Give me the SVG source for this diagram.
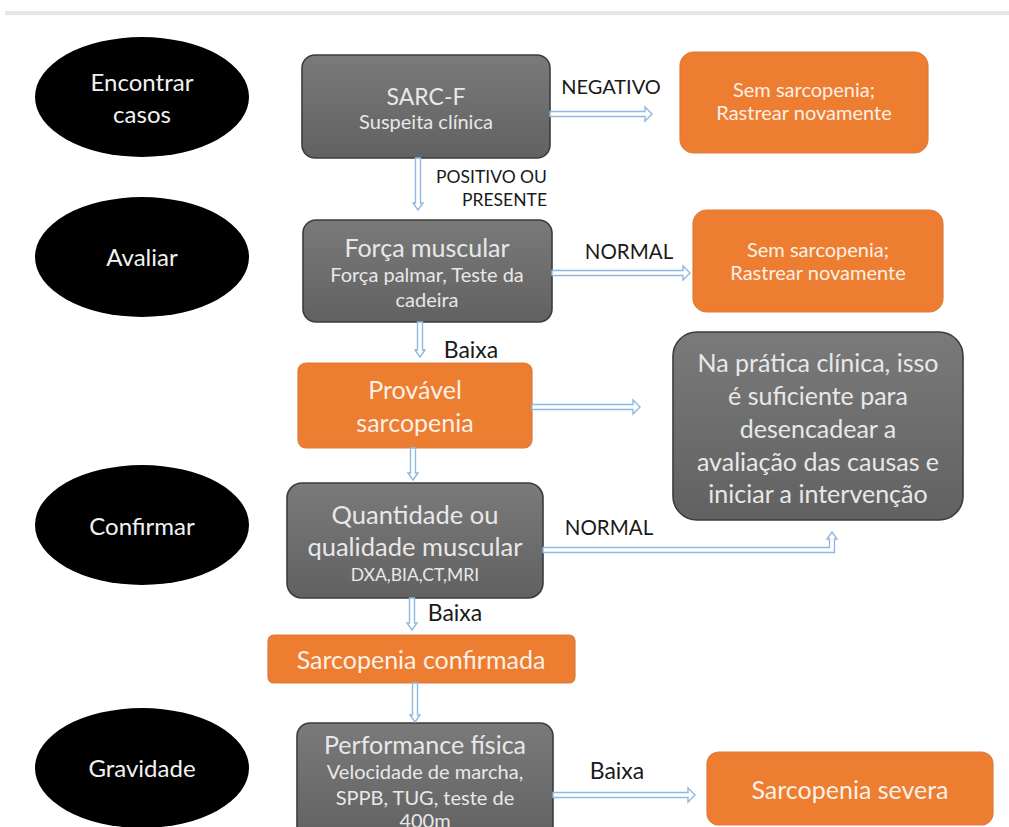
<svg xmlns="http://www.w3.org/2000/svg" width="1009" height="827" viewBox="0 0 1009 827">
<defs>
<linearGradient id="gg" x1="0" y1="0" x2="0" y2="1">
<stop offset="0" stop-color="#7a7a7a"/>
<stop offset="1" stop-color="#616161"/>
</linearGradient>
<style>
.ell{fill:#000}
.gray{fill:url(#gg);stroke:#3c3c3c;stroke-width:1.6}
.org{fill:#ed7d31;stroke:#dd7a3e;stroke-width:1.2}
.arr{fill:#fff;stroke:#8fb9e1;stroke-width:1.4;stroke-linejoin:miter}
text{font-family:Lato,"Liberation Sans",sans-serif;text-anchor:middle}
.wt{fill:#f2f2f2}
.gt{fill:#e8e8e8}
.ot{fill:#fdf0e6}
.lb{fill:#1a1a1a}
</style>
</defs>
<rect x="5" y="11" width="1004" height="4" fill="#e6e6e6"/>

<g id="stage-encontrar">
<ellipse class="ell" cx="142" cy="97" rx="107" ry="60"/>
<text class="wt" x="142" y="91" font-size="24">Encontrar</text>
<text class="wt" x="142" y="123" font-size="24">casos</text>
</g>
<g id="stage-avaliar">
<ellipse class="ell" cx="142" cy="257" rx="107" ry="60"/>
<text class="wt" x="142" y="266" font-size="24">Avaliar</text>
</g>
<g id="stage-confirmar">
<ellipse class="ell" cx="142" cy="525" rx="107" ry="60"/>
<text class="wt" x="142" y="535" font-size="24">Confirmar</text>
</g>
<g id="stage-gravidade">
<ellipse class="ell" cx="142" cy="768" rx="107" ry="60"/>
<text class="wt" x="142" y="777" font-size="24">Gravidade</text>
</g>

<g id="sarcf">
<rect class="gray" x="302" y="55" width="248" height="103" rx="13"/>
<text class="gt" x="426" y="105" font-size="23">SARC-F</text>
<text class="gt" x="426" y="129" font-size="20">Suspeita clínica</text>
</g>
<g id="sem1">
<rect class="org" x="680" y="52" width="248" height="101" rx="14"/>
<text class="ot" x="804" y="97" font-size="20">Sem sarcopenia;</text>
<text class="ot" x="804" y="120" font-size="20">Rastrear novamente</text>
</g>
<g id="forca">
<rect class="gray" x="303" y="220" width="249" height="102" rx="13"/>
<text class="gt" x="427" y="257" font-size="25">Força muscular</text>
<text class="gt" x="427" y="282" font-size="20">Força palmar, Teste da</text>
<text class="gt" x="427" y="307" font-size="20">cadeira</text>
</g>
<g id="sem2">
<rect class="org" x="693" y="210" width="250" height="102" rx="14"/>
<text class="ot" x="818" y="257" font-size="20">Sem sarcopenia;</text>
<text class="ot" x="818" y="280" font-size="20">Rastrear novamente</text>
</g>
<g id="provavel">
<rect class="org" x="298" y="363" width="234" height="85" rx="8"/>
<text class="ot" x="415" y="399" font-size="25">Provável</text>
<text class="ot" x="415" y="432" font-size="25">sarcopenia</text>
</g>
<g id="pratica">
<rect class="gray" x="673" y="332" width="290" height="188" rx="24"/>
<text class="gt" x="818" y="372" font-size="25">Na prática clínica, isso</text>
<text class="gt" x="818" y="405" font-size="25">é suficiente para</text>
<text class="gt" x="818" y="438" font-size="25">desencadear a</text>
<text class="gt" x="818" y="471" font-size="25">avaliação das causas e</text>
<text class="gt" x="818" y="503" font-size="25">iniciar a intervenção</text>
</g>
<g id="quantidade">
<rect class="gray" x="287" y="483" width="256" height="115" rx="15"/>
<text class="gt" x="415" y="524" font-size="25.5">Quantidade ou</text>
<text class="gt" x="415" y="556" font-size="25.5">qualidade muscular</text>
<text class="gt" x="415" y="581" font-size="17.5">DXA,BIA,CT,MRI</text>
</g>
<g id="confirmada">
<rect class="org" x="268" y="635" width="307" height="48" rx="6"/>
<text class="ot" x="421" y="669" font-size="25">Sarcopenia confirmada</text>
</g>
<g id="performance">
<rect class="gray" x="297" y="723" width="256" height="120" rx="13"/>
<text class="gt" x="425" y="754" font-size="25">Performance física</text>
<text class="gt" x="425" y="779" font-size="20">Velocidade de marcha,</text>
<text class="gt" x="425" y="805" font-size="20">SPPB, TUG, teste de</text>
<text class="gt" x="425" y="828" font-size="20">400m</text>
</g>
<g id="severa">
<rect class="org" x="707" y="752" width="286" height="73" rx="12"/>
<text class="ot" x="850" y="799" font-size="25">Sarcopenia severa</text>
</g>

<g id="connectors">
<path class="arr" d="M550,111.5 H645 V107 L652,114 L645,121 V116.5 H550 Z"/>
<path class="arr" d="M415.5,158 V203 H413 L418,210 L423,203 H420.5 V158 Z"/>
<path class="arr" d="M552,270.5 H683 V266 L690,273 L683,280 V275.5 H552 Z"/>
<path class="arr" d="M417.5,322 V350 H415 L420,357 L425,350 H422.5 V322 Z"/>
<path class="arr" d="M532,404.5 H633 V400 L640,407 L633,414 V409.5 H532 Z"/>
<path class="arr" d="M410.5,448 V473 H408 L413,480 L418,473 H415.5 V448 Z"/>
<path class="arr" d="M543,547.5 H829.5 V539 H827 L832,532 L837,539 H834.5 V552.5 H543 Z"/>
<path class="arr" d="M409.5,598 V623 H407 L412,630 L417,623 H414.5 V598 Z"/>
<path class="arr" d="M412.5,683 V715 H410 L415,722 L420,715 H417.5 V683 Z"/>
<path class="arr" d="M553,792.5 H688 V788 L695,795 L688,802 V797.5 H553 Z"/>
<text class="lb" x="611" y="94" font-size="20">NEGATIVO</text>
<text class="lb" x="547" y="183" font-size="17.5" style="text-anchor:end">POSITIVO OU</text>
<text class="lb" x="547" y="206" font-size="17.5" style="text-anchor:end">PRESENTE</text>
<text class="lb" x="629" y="259" font-size="20.5">NORMAL</text>
<text class="lb" x="471" y="358" font-size="23">Baixa</text>
<text class="lb" x="609" y="535" font-size="20.5">NORMAL</text>
<text class="lb" x="455" y="621" font-size="23">Baixa</text>
<text class="lb" x="617" y="779" font-size="23">Baixa</text>
</g>
</svg>
